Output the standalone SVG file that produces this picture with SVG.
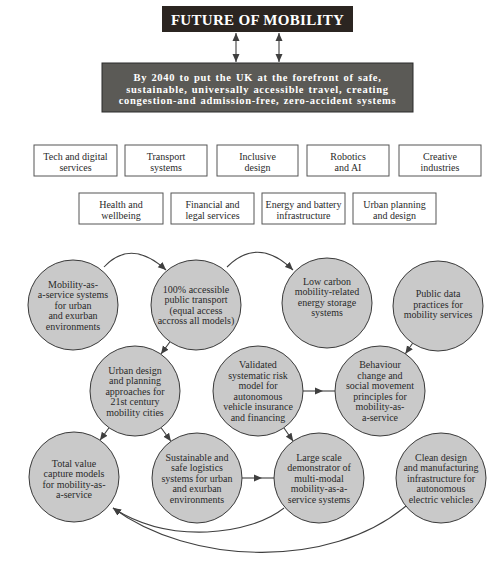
<svg xmlns="http://www.w3.org/2000/svg" width="504" height="564" viewBox="0 0 504 564">
<style>
.t{font-family:"Liberation Serif",serif;font-size:10px;fill:#2a2a2a;text-anchor:middle}
.b{font-family:"Liberation Serif",serif;font-weight:bold;fill:#fff;text-anchor:middle}
.box{fill:#fff;stroke:#555;stroke-width:1}
.node{fill:#c9c9c9;stroke:#3a3a3a;stroke-width:1}
.ln{fill:none;stroke:#3f3f3f;stroke-width:1.1}
</style>
<defs>
<marker id="ah" markerUnits="userSpaceOnUse" markerWidth="9" markerHeight="8" refX="8" refY="4" orient="auto-start-reverse">
<path d="M0,0.5 L8,4 L0,7.5 Z" fill="#3f3f3f"/>
</marker>
</defs>
<rect width="504" height="564" fill="#fff"/>
<g id="title">
<rect x="162" y="6" width="191" height="26" fill="#2b2521"/>
<text class="b" x="257.5" y="24.5" font-size="15" letter-spacing="0.3">FUTURE OF MOBILITY</text>
</g>
<g id="vision">
<rect x="102" y="63" width="311" height="49" fill="#5b5a56" stroke="#2a2a2a" stroke-width="1"/>
<text class="b" font-size="10.5" letter-spacing="0.7" word-spacing="1"><tspan x="257.5" y="81">By 2040 to put the UK at the forefront of safe,</tspan><tspan x="257.5" y="92.7">sustainable, universally accessible travel, creating</tspan><tspan x="257.5" y="104.4">congestion-and admission-free, zero-accident systems</tspan></text>
</g>
<g id="box-tech"><rect class="box" x="34" y="145" width="83" height="31"/><text class="t"><tspan x="75.5" y="159.5">Tech and digital</tspan><tspan x="75.5" y="170.5">services</tspan></text></g>
<g id="box-transport"><rect class="box" x="125" y="145" width="82" height="31"/><text class="t"><tspan x="166" y="159.5">Transport</tspan><tspan x="166" y="170.5">systems</tspan></text></g>
<g id="box-inclusive"><rect class="box" x="217" y="145" width="81" height="31"/><text class="t"><tspan x="257.5" y="159.5">Inclusive</tspan><tspan x="257.5" y="170.5">design</tspan></text></g>
<g id="box-robotics"><rect class="box" x="307" y="145" width="82" height="31"/><text class="t"><tspan x="348" y="159.5">Robotics</tspan><tspan x="348" y="170.5">and AI</tspan></text></g>
<g id="box-creative"><rect class="box" x="399" y="145" width="82" height="31"/><text class="t"><tspan x="440" y="159.5">Creative</tspan><tspan x="440" y="170.5">industries</tspan></text></g>
<g id="box-health"><rect class="box" x="79" y="193" width="84" height="31"/><text class="t"><tspan x="121" y="207.5">Health and</tspan><tspan x="121" y="218.5">wellbeing</tspan></text></g>
<g id="box-financial"><rect class="box" x="171" y="193" width="83" height="31"/><text class="t"><tspan x="212.5" y="207.5">Financial and</tspan><tspan x="212.5" y="218.5">legal services</tspan></text></g>
<g id="box-energy"><rect class="box" x="262" y="193" width="83" height="31"/><text class="t"><tspan x="303.5" y="207.5">Energy and battery</tspan><tspan x="303.5" y="218.5">infrastructure</tspan></text></g>
<g id="box-urban"><rect class="box" x="353" y="193" width="83" height="31"/><text class="t"><tspan x="394.5" y="207.5">Urban planning</tspan><tspan x="394.5" y="218.5">and design</tspan></text></g>

<g id="connectors">
<path class="ln" d="M236,33 L236,62" marker-start="url(#ah)" marker-end="url(#ah)"/>
<path class="ln" d="M279,33 L279,62" marker-start="url(#ah)" marker-end="url(#ah)"/>
<path class="ln" d="M104,267 Q131,238 166,270" marker-end="url(#ah)"/>
<path class="ln" d="M227,267 Q258,236 293,270" marker-end="url(#ah)"/>
<path class="ln" d="M170,341.7 L161,354" marker-end="url(#ah)"/>
<path class="ln" d="M412.6,343.2 L405.4,353.8" marker-end="url(#ah)"/>
<path class="ln" d="M109,427.7 L100,440.3" marker-end="url(#ah)"/>
<path class="ln" d="M161.1,427.7 L170.9,441.3" marker-end="url(#ah)"/>
<path class="ln" d="M283.8,427.8 L293.2,441.2" marker-end="url(#ah)"/>
<path class="ln" d="M303,391 L323,391 L335,391" marker-mid="url(#ah)"/>
<path class="ln" d="M242,478 L262,478 L274,478" marker-mid="url(#ah)"/>
<path class="ln" d="M284,508 C250,535 170,545 113,508" marker-end="url(#ah)"/>
<path class="ln" d="M406,506 C330,570 190,565 113,508" marker-end="url(#ah)"/>
</g>

<g id="n-mobility"><circle class="node" cx="73" cy="305" r="45"/><text class="t"><tspan x="73" y="287.5">Mobility-as-</tspan><tspan x="73" y="298">a-service systems</tspan><tspan x="73" y="308.5">for urban</tspan><tspan x="73" y="319">and exurban</tspan><tspan x="73" y="329.5">environments</tspan></text></g>
<g id="n-accessible"><circle class="node" cx="196" cy="305" r="45"/><text class="t"><tspan x="196" y="292.75">100% accessible</tspan><tspan x="196" y="303.25">public transport</tspan><tspan x="196" y="313.75">(equal access</tspan><tspan x="196" y="324.25">accross all models)</tspan></text></g>
<g id="n-lowcarbon"><circle class="node" cx="327" cy="303" r="45"/><text class="t"><tspan x="327" y="284.75">Low carbon</tspan><tspan x="327" y="295.25">mobility-related</tspan><tspan x="327" y="305.75">energy storage</tspan><tspan x="327" y="316.25">systems</tspan></text></g>
<g id="n-publicdata"><circle class="node" cx="438" cy="306" r="45"/><text class="t"><tspan x="438" y="297">Public data</tspan><tspan x="438" y="307.5">practices for</tspan><tspan x="438" y="318">mobility services</tspan></text></g>
<g id="n-urbandesign"><circle class="node" cx="135" cy="391" r="45"/><text class="t"><tspan x="135" y="373.5">Urban design</tspan><tspan x="135" y="384">and planning</tspan><tspan x="135" y="394.5">approaches for</tspan><tspan x="135" y="405">21st century</tspan><tspan x="135" y="415.5">mobility cities</tspan></text></g>
<g id="n-validated"><circle class="node" cx="258" cy="391" r="45"/><text class="t"><tspan x="258" y="368.25">Validated</tspan><tspan x="258" y="378.75">systematic risk</tspan><tspan x="258" y="389.25">model for</tspan><tspan x="258" y="399.75">autonomous</tspan><tspan x="258" y="410.25">vehicle insurance</tspan><tspan x="258" y="420.75">and financing</tspan></text></g>
<g id="n-behaviour"><circle class="node" cx="380" cy="391" r="45"/><text class="t"><tspan x="380" y="368.25">Behaviour</tspan><tspan x="380" y="378.75">change and</tspan><tspan x="380" y="389.25">social movement</tspan><tspan x="380" y="399.75">principles for</tspan><tspan x="380" y="410.25">mobility-as-</tspan><tspan x="380" y="420.75">a-service</tspan></text></g>
<g id="n-totalvalue"><circle class="node" cx="74" cy="477" r="45"/><text class="t"><tspan x="74" y="466.75">Total value</tspan><tspan x="74" y="477.25">capture models</tspan><tspan x="74" y="487.75">for mobility-as-</tspan><tspan x="74" y="498.25">a-service</tspan></text></g>
<g id="n-sustainable"><circle class="node" cx="197" cy="478" r="45"/><text class="t"><tspan x="197" y="460.5">Sustainable and</tspan><tspan x="197" y="471">safe logistics</tspan><tspan x="197" y="481.5">systems for urban</tspan><tspan x="197" y="492">and exurban</tspan><tspan x="197" y="502.5">environments</tspan></text></g>
<g id="n-largescale"><circle class="node" cx="319" cy="478" r="45"/><text class="t"><tspan x="319" y="460.5">Large scale</tspan><tspan x="319" y="471">demonstrator of</tspan><tspan x="319" y="481.5">multi-modal</tspan><tspan x="319" y="492">mobility-as-a-</tspan><tspan x="319" y="502.5">service systems</tspan></text></g>
<g id="n-clean"><circle class="node" cx="441" cy="478" r="45"/><text class="t"><tspan x="441" y="460.5">Clean design</tspan><tspan x="441" y="471">and manufacturing</tspan><tspan x="441" y="481.5">infrastructure for</tspan><tspan x="441" y="492">autonomous</tspan><tspan x="441" y="502.5">electric vehicles</tspan></text></g>
</svg>
